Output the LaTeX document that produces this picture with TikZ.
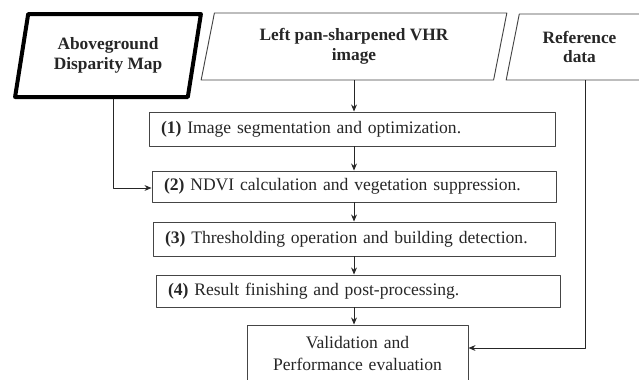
\documentclass[tikz,border=0pt]{standalone}
\usepackage{fontspec}
\setmainfont{Liberation Serif}
\usetikzlibrary{shapes.geometric,arrows.meta}
\definecolor{qqqqqq}{rgb}{0.15,0.15,0.15}
\definecolor{uuuuuu}{rgb}{0.27,0.27,0.27}

\begin{document}
\begin{tikzpicture}[line cap=round,line join=round,>={Stealth[length=6pt,width=5pt]},x=1.0cm,y=1.0cm,
		inbox/.style={shape=trapezium,trapezium left angle=76,trapezium right angle=104,trapezium stretches=true,
			draw=uuuuuu,line width=0.8pt,inner sep=0pt,align=center,text=qqqqqq,
			font=\fontsize{14.8}{17}\selectfont\bfseries},
		stepbox/.style={draw=uuuuuu,line width=0.8pt,rectangle,align=left,inner xsep=0.36cm,inner ysep=0pt,
			text=qqqqqq,font=\fontsize{15}{15}\selectfont},
		link/.style={->,draw=qqqqqq,line width=0.8pt}]
		\useasboundingbox (0.,0.) rectangle (19.17,-11.37);
		\clip (0.,0.) rectangle (19.17,-11.37);
		% inputs
		\node[inbox,line width=0.12cm,draw=black,minimum width=5.58cm,minimum height=2.49cm] (above) at (3.24,-1.665) {Aboveground\\Disparity Map};
		\node[inbox,minimum width=9.18cm,minimum height=2.01cm] (pan) at (10.62,-1.395) {Left pan-sharpened VHR\\image};
		\node[inbox,minimum width=4.41cm,minimum height=1.98cm] (ref) at (17.385,-1.41) {Reference\\data};
		% processing steps
		\node[stepbox,text width=11.46cm,minimum height=1.02cm] (seg) at (10.56,-3.87) {\textbf{(1)} Image segmentation and optimization.};
		\node[stepbox,text width=11.40cm,minimum height=0.93cm] (ndvi) at (10.62,-5.595) {\textbf{(2)} NDVI calculation and vegetation suppression.};
		\node[stepbox,text width=11.34cm,minimum height=1.02cm] (thr) at (10.62,-7.17) {\textbf{(3)} Thresholding operation and building detection.};
		\node[stepbox,text width=11.40cm,minimum height=0.96cm] (fin) at (10.74,-8.73) {\textbf{(4)} Result finishing and post-processing.};
		\node[stepbox,align=center,text width=5.91cm,minimum height=1.71cm,font=\fontsize{15}{18.7}\selectfont] (val) at (10.725,-10.605) {Validation and\\Performance evaluation};
		% connectors
		\draw[link] (pan.south) -- (pan.south |- seg.north);
		\draw[link] (pan.south |- seg.south) -- (pan.south |- ndvi.north);
		\draw[link] (pan.south |- ndvi.south) -- (pan.south |- thr.north);
		\draw[link] (pan.south |- thr.south) -- (pan.south |- fin.north);
		\draw[link] (pan.south |- fin.south) -- (pan.south |- val.north);
		\draw[link] ([xshift=0.15cm]above.south) |- ([yshift=-0.045cm]ndvi.west);
		\draw[link] ([xshift=0.18cm]ref.south) |- ([yshift=0.165cm]val.east);
		\end{tikzpicture}
\end{document}
